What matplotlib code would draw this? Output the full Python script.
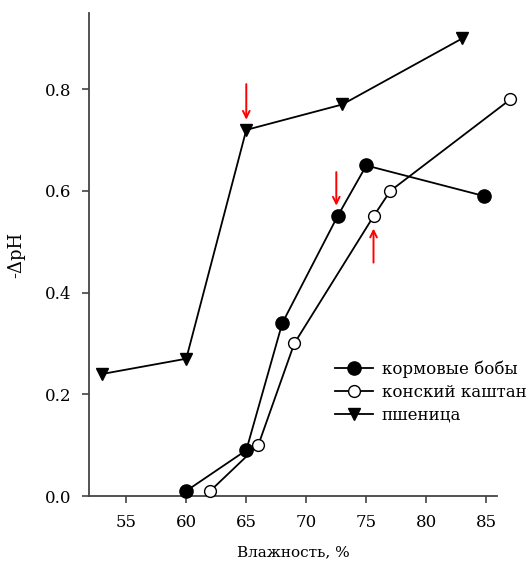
import matplotlib
matplotlib.use("Agg")
import matplotlib.pyplot as plt

plt.rcParams["font.family"] = ["DejaVu Serif"]

# ─── Data ───
beans_x = [60, 65, 68, 72.6, 75, 84.8]
beans_y = [0.01, 0.09, 0.34, 0.55, 0.65, 0.59]

chestnut_x = [62, 66, 69, 75.6, 77, 87]
chestnut_y = [0.01, 0.10, 0.30, 0.55, 0.60, 0.78]

wheat_x = [53, 60, 65, 73, 83]
wheat_y = [0.24, 0.27, 0.72, 0.77, 0.90]

# red arrows: (x, y_start, y_end)
arrows = [(65, 0.81, 0.74), (72.5, 0.637, 0.571), (75.6, 0.459, 0.526)]

xticks = [55, 60, 65, 70, 75, 80, 85]
yticks = [0.0, 0.2, 0.4, 0.6, 0.8]

fig = plt.figure(figsize=(5.3, 5.63), dpi=100)
ax = fig.add_axes([0.168, 0.119, 0.770, 0.858])

ax.plot(beans_x, beans_y, "k-", marker="o", markersize=9.5, markerfacecolor="black",
        linewidth=1.3, label="кормовые бобы", clip_on=False, zorder=3)
ax.plot(chestnut_x, chestnut_y, "k-", marker="o", markersize=8.5, markerfacecolor="white",
        linewidth=1.3, label="конский каштан", clip_on=False, zorder=3)
ax.plot(wheat_x, wheat_y, "k-", marker="v", markersize=9, markerfacecolor="black",
        linewidth=1.3, label="пшеница", clip_on=False, zorder=3)

for x, y0, y1 in arrows:
    ax.annotate("", xy=(x, y1), xytext=(x, y0),
                arrowprops=dict(arrowstyle="->", color="red", lw=1.4,
                                shrinkA=0, shrinkB=0, mutation_scale=12))

ax.set_xlim(51.9, 85.9)
ax.set_ylim(0, 0.95)
ax.set_xticks(xticks)
ax.set_yticks(yticks)
ax.set_yticklabels([f"{v:.1f}" for v in yticks])
ax.tick_params(direction="out", length=5, width=1.2, labelsize=12, color="#444444", pad=8)

for s in ["top", "right"]:
    ax.spines[s].set_visible(False)
for s in ["left", "bottom"]:
    ax.spines[s].set_color("#444444")
    ax.spines[s].set_linewidth(1.3)

ax.set_xlabel("Влажность, %", fontsize=11, labelpad=10)
ax.set_ylabel("-ΔpH", fontsize=13, labelpad=14)

ax.legend(loc="center left", bbox_to_anchor=(0.603, 0.215), frameon=False, fontsize=12,
          handlelength=2.3, handletextpad=0.5, labelspacing=0.35, borderaxespad=0,
          borderpad=0)

plt.savefig("out.png", dpi=100)
plt.close()
